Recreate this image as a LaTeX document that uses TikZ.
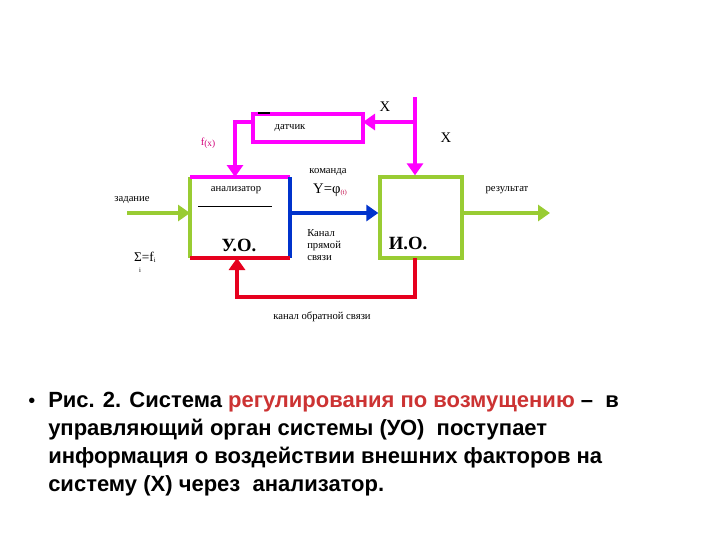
\documentclass[tikz,border=0pt]{standalone}
\usepackage{fontspec}
\setmainfont{Liberation Serif}
\newfontfamily\arial{Liberation Sans}
\usetikzlibrary{arrows.meta}
\definecolor{mag}{RGB}{255,0,255}
\definecolor{grn}{RGB}{153,204,51}
\definecolor{blu}{RGB}{0,51,204}
\definecolor{rd}{RGB}{230,0,30}
\definecolor{accent}{RGB}{204,51,51}
\tikzset{thk/.style={line width=3.5pt},
 arr/.style={thk,-{Triangle[length=9pt,width=12pt]}},
 lbl/.style={font=\fontsize{8}{9}\selectfont,inner sep=0pt,align=left}}
\begin{document}
\begin{tikzpicture}[x=0.75pt,y=-0.75pt]
\useasboundingbox (0,0) rectangle (720,540);
% boxes
\coordinate (uotl) at (190,177); \coordinate (uotr) at (290,177);
\coordinate (uobl) at (190,258); \coordinate (uobr) at (290,258);
\draw[grn,line width=2.5pt] (uotl) -- (uobl);
\draw[mag,line width=2.5pt] (uotl) -- (uotr);
\draw[blu,line width=2.5pt] (uotr) -- (uobr);
\draw[rd,line width=2.5pt] (uobl) -- (uobr);
\node[draw=grn,line width=2.5pt,minimum width=82*0.75pt,minimum height=81*0.75pt,inner sep=0pt] (io) at (421,217.5) {};
\node[draw=mag,line width=2.5pt,minimum width=110*0.75pt,minimum height=28*0.75pt,inner sep=0pt] (dat) at (308,128) {};
\draw[line width=1pt] (258,113) -- (270,113);
\node[lbl] at (290,128) {датчик};
% x input
\coordinate (xtop) at (415,97);
\coordinate (xj) at (415,122);
\draw[mag,arr] (xtop) -- (io.north -| xtop);
\draw[mag,arr] (xj) -- (363,122);
\draw[mag,arr] (253,122) -- (235,122) -- (235,177);
% green
\draw[grn,arr] (127,213) -- (190,213);
\draw[grn,arr] (io.east |- 0,213) -- (550,213);
\draw[blu,arr] (290,213) -- (io.west |- 0,213);
\draw[rd,arr] (415,258) -- (415,297) -- (237,297) -- (237,258);
\draw[line width=0.6pt] (198,206) -- (272,206);
% texts
\node[lbl,font=\fontsize{11}{12}\selectfont] at (385,107) {X};
\node[lbl,font=\fontsize{11}{12}\selectfont] at (446,138) {X};
\node[lbl,text=purple!70!mag] at (208,143) {f\raisebox{-1pt}{\scriptsize(x)}};
\node[lbl] at (328,172) {команда};
\node[lbl,font=\fontsize{11}{12}\selectfont] at (330,190) {Y=φ\raisebox{-1pt}{\textcolor{purple}{\tiny(t)}}};
\node[lbl] at (507,190) {результат};
\node[lbl] at (132,200) {задание};
\node[lbl,font=\fontsize{10}{12}\selectfont] at (145,257) {Σ=f\raisebox{-1pt}{\tiny i}};
\node[lbl,font=\tiny] at (140,270) {i};
\node[lbl] at (236,190) {анализатор};
\node[lbl,font=\bfseries\fontsize{14}{16}\selectfont] at (239,245) {У.О.};
\node[lbl,font=\bfseries\fontsize{14}{16}\selectfont] at (408,243) {И.О.};
\node[lbl,anchor=west] at (307,245) {Канал\\прямой\\связи};
\node[lbl] at (322,317) {канал обратной связи};
\node[anchor=north west,inner sep=0pt,font=\arial\bfseries\fontsize{16.5}{21}\selectfont,align=left] at (48,392)
 {Рис. 2. Система \textcolor{accent}{регулирования по возмущению} –~ в\\управляющий орган системы (УО)~ поступает\\информация о воздействии внешних факторов на\\систему (X) через~ анализатор.};
\node[font=\arial\fontsize{15}{18}\selectfont,inner sep=0pt] at (32,403) {•};
\end{tikzpicture}
\end{document}
